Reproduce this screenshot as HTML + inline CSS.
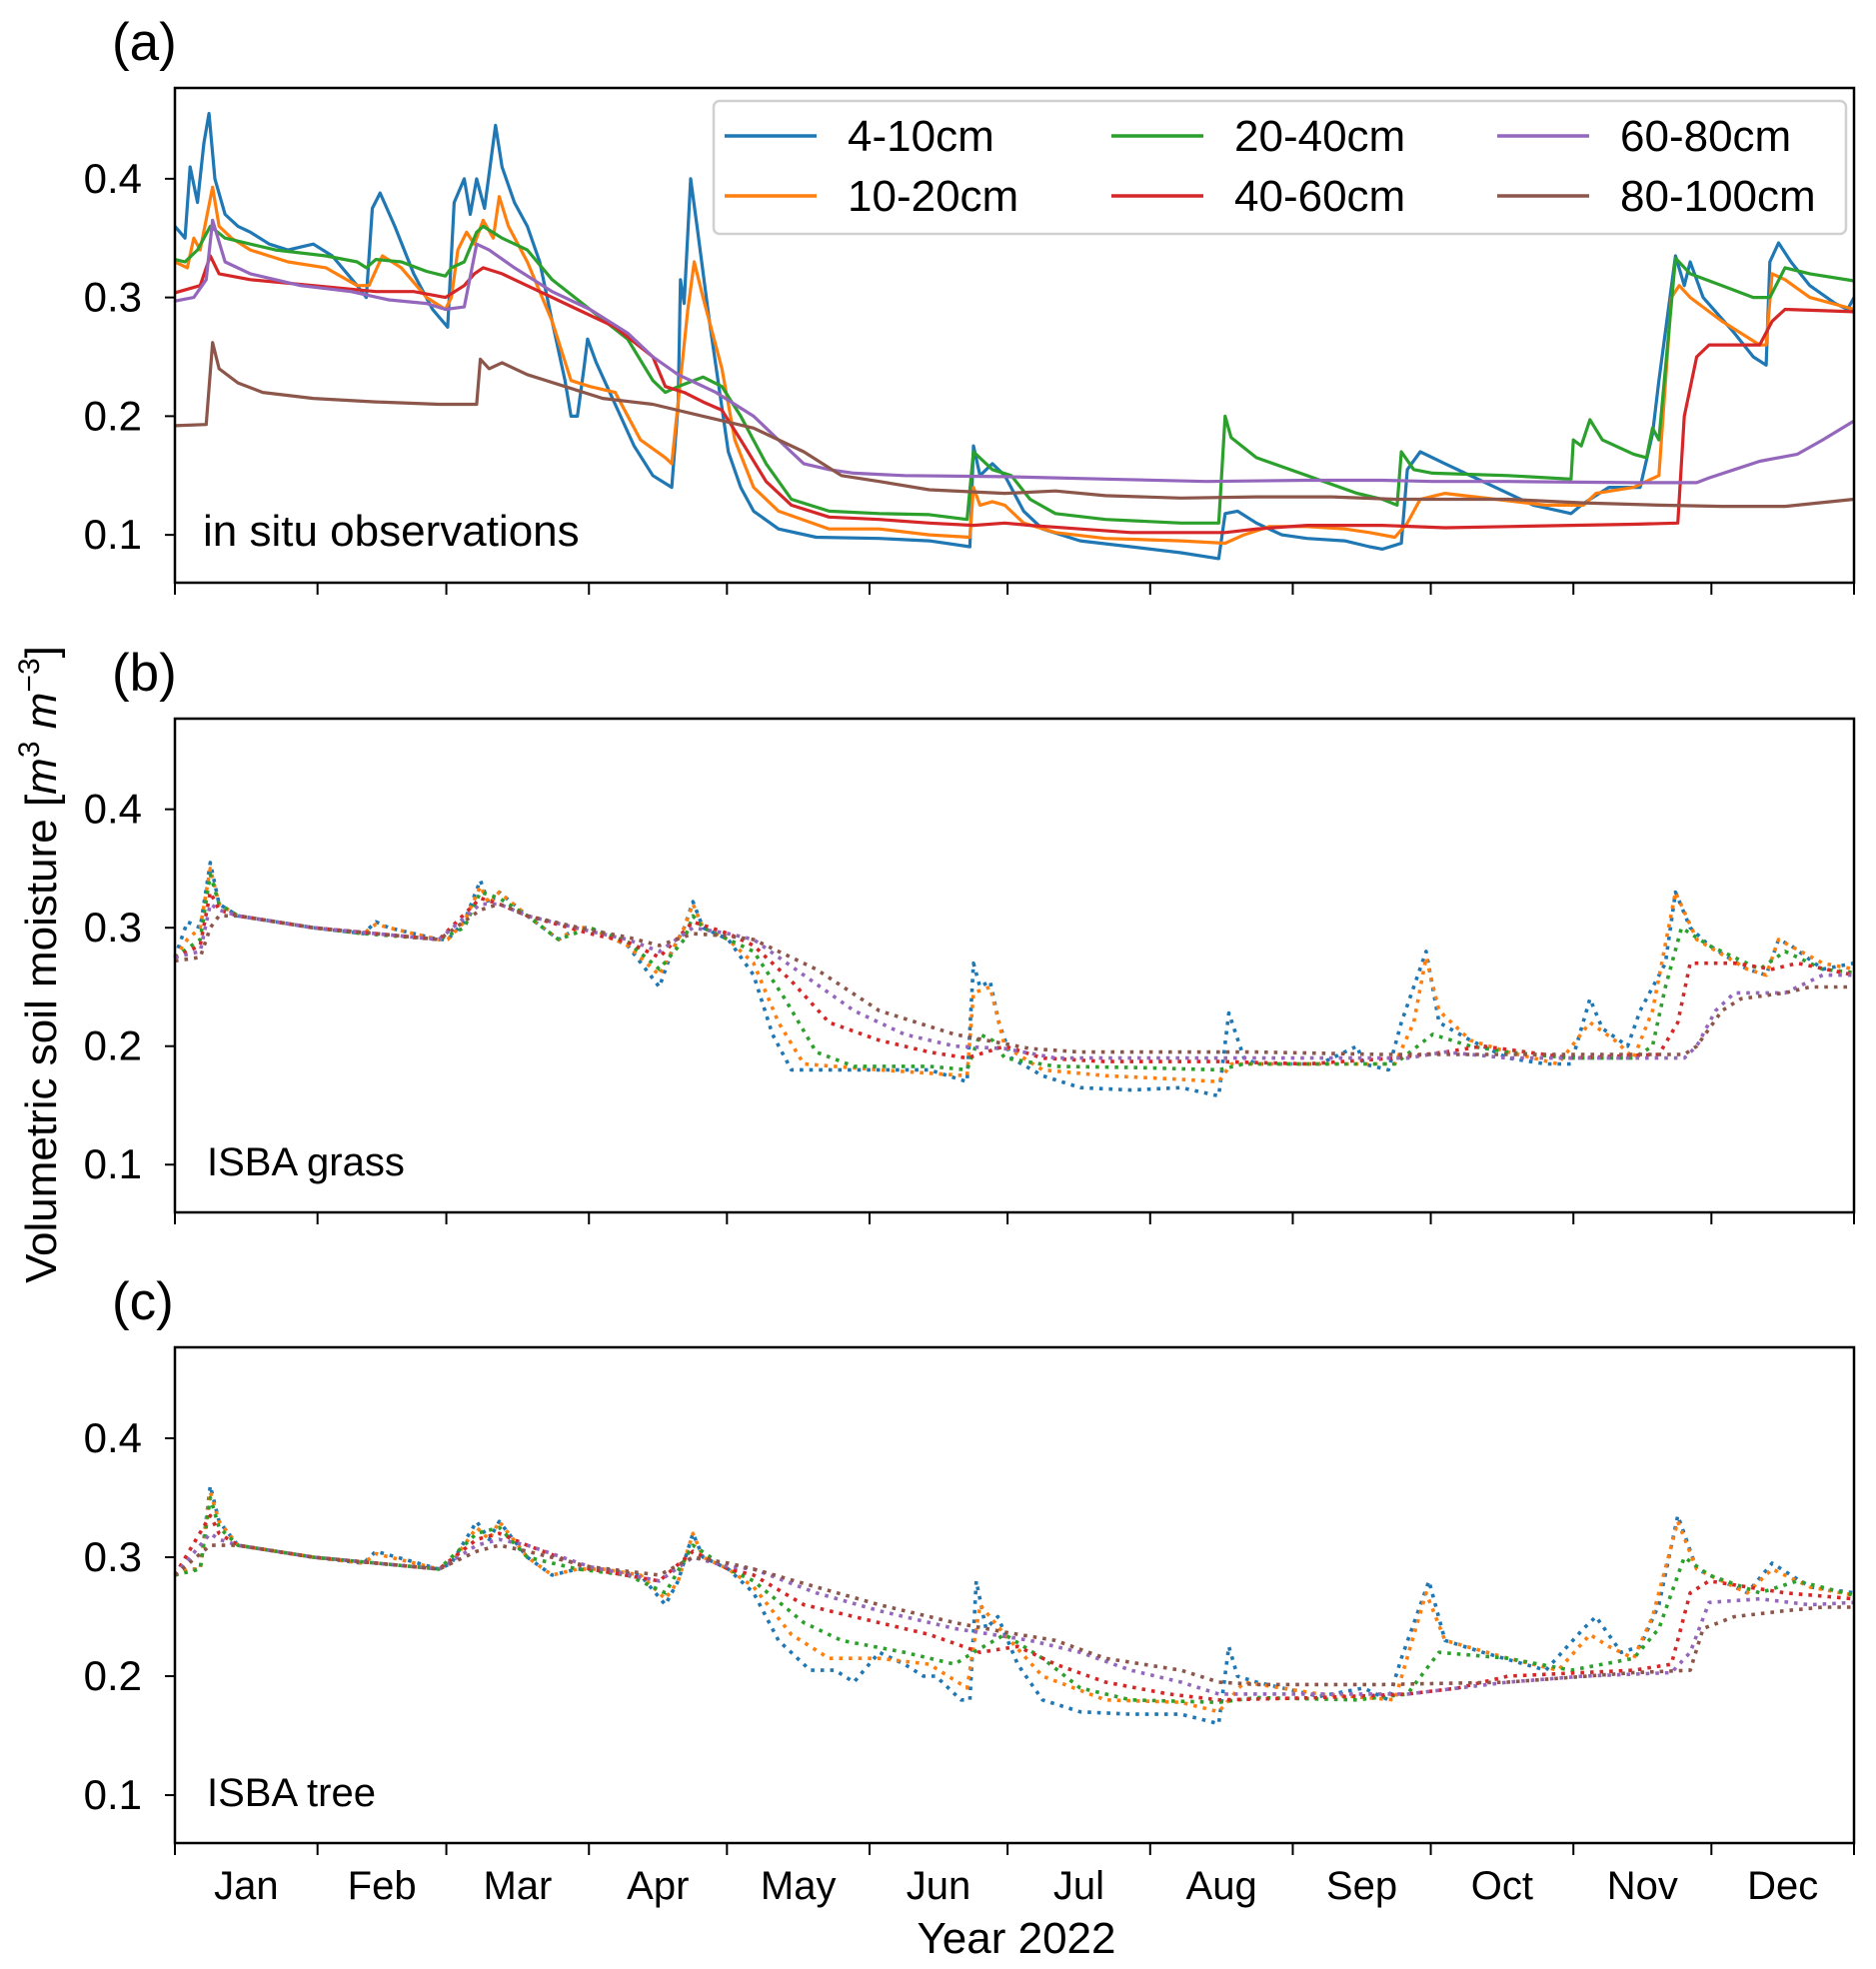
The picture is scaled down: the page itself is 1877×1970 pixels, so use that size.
<!DOCTYPE html>
<html><head><meta charset="utf-8"><style>
body{margin:0;background:#fff;}
svg{display:block;font-family:"Liberation Sans",sans-serif;}
</style></head><body>
<svg id="chart" width="1877" height="1970" viewBox="0 0 1877 1970" xmlns="http://www.w3.org/2000/svg"></svg>
<script>
const monthLabels=["Jan","Feb","Mar","Apr","May","Jun","Jul","Aug","Sep","Oct","Nov","Dec"];
const monthStarts=[0,31,59,90,120,151,181,212,243,273,304,334,365];
const yTicks=[0.1,0.2,0.3,0.4];
const seriesNames=["4-10cm","10-20cm","20-40cm","40-60cm","60-80cm","80-100cm"];
const colors=["#1f77b4","#ff7f0e","#2ca02c","#d62728","#9467bd","#8c564b"];

// Panel (a) in situ observations
const aBlueDays=[0,2.2,3.3,4.9,6.3,7.4,8.7,10.9,13.7,16.4,20.5,24.6,30.1,34.2,39.6,41.6,42.9,44.6,47.8,51.9,56,59.3,60.7,62.9,64.2,65.6,67.3,69.7,71.1,73.8,76.6,79.3,82,84.8,86.1,87.5,88.9,89.7,91.6,95.7,99.8,103.9,108,109.4,109.9,110.7,112.1,113.5,116.2,120.3,123,125.8,131.2,139.4,153.1,164,172.8,173.6,175,177.7,180.4,184.5,188.6,196.8,207.8,218.7,226.9,228.3,231,235.1,240.6,246.1,254.3,259.7,262.5,266.6,267.9,270.7,276.1,284.3,295.3,303.5,305.7,307.6,311.7,315.8,318.5,321.2,322.6,326.2,328.1,329.4,332.2,339,343.1,345.9,346.7,348.6,351.3,355.4,360.9,363.6,365];
const aBlueVals=[0.36,0.35,0.41,0.38,0.43,0.455,0.40,0.37,0.36,0.355,0.345,0.34,0.345,0.335,0.31,0.30,0.375,0.388,0.36,0.32,0.29,0.275,0.38,0.40,0.37,0.40,0.375,0.445,0.41,0.38,0.36,0.33,0.28,0.23,0.20,0.20,0.24,0.265,0.245,0.21,0.175,0.15,0.14,0.21,0.315,0.295,0.40,0.36,0.28,0.17,0.14,0.12,0.105,0.098,0.097,0.095,0.09,0.175,0.15,0.16,0.15,0.12,0.105,0.095,0.09,0.085,0.08,0.118,0.12,0.11,0.10,0.097,0.095,0.09,0.088,0.093,0.155,0.17,0.16,0.145,0.125,0.118,0.125,0.13,0.14,0.14,0.14,0.185,0.23,0.335,0.31,0.33,0.30,0.27,0.25,0.243,0.33,0.346,0.33,0.31,0.295,0.29,0.30];
const aOrangeDays=[0,2.7,4.1,5.5,8.2,9.6,12.3,16.4,24.6,32.8,39.6,42.2,45.1,49.2,54.7,58.8,60.1,61.5,63.4,65.1,67,69.2,70.5,72.5,76.6,82,86.1,90.2,95.7,101.2,106.6,108,111.5,112.9,114.8,118.9,121.7,125.8,131.2,142.2,153.1,164,172.8,173.6,175,177.7,180.4,184.5,191.4,202.3,218.7,228.3,232.4,237.9,246.1,254.3,259.7,265.2,267.9,270.7,276.1,287.1,298,306.2,308.9,317.1,322.6,325.3,327,329.4,336.3,344.5,345.9,347.2,350,355.4,365];
const aOrangeVals=[0.33,0.325,0.35,0.34,0.393,0.36,0.35,0.34,0.33,0.325,0.31,0.31,0.335,0.325,0.30,0.29,0.30,0.34,0.355,0.345,0.365,0.35,0.385,0.36,0.33,0.28,0.23,0.225,0.22,0.18,0.165,0.16,0.29,0.33,0.30,0.24,0.18,0.14,0.12,0.105,0.105,0.10,0.098,0.14,0.125,0.128,0.125,0.11,0.102,0.097,0.095,0.093,0.10,0.107,0.107,0.105,0.102,0.098,0.11,0.13,0.135,0.13,0.125,0.125,0.135,0.14,0.15,0.30,0.31,0.30,0.28,0.26,0.26,0.32,0.315,0.30,0.29];
const aGreenDays=[0,2.2,4.9,7.7,10.9,21.9,32.8,39.6,41.6,43.7,49.2,54.7,58.8,60.1,62.9,65.6,67,71.1,76.6,82,90.2,98.4,103.9,106.6,109.4,114.8,118.9,123,128.5,134,142.2,153.1,164,172.2,173.6,177.7,181.8,185.9,191.4,202.3,218.7,226.9,228.3,229.6,235.1,246.1,257,262.5,265.7,266.6,269.3,273.4,289.8,303.5,304,305.7,307.6,310.3,317.1,319.9,321.2,322.6,326.2,329.4,336.3,343.1,346.7,350,355.4,365];
const aGreenVals=[0.332,0.33,0.34,0.36,0.35,0.34,0.335,0.33,0.325,0.332,0.33,0.322,0.318,0.325,0.33,0.355,0.36,0.35,0.34,0.315,0.29,0.265,0.23,0.22,0.225,0.233,0.225,0.20,0.16,0.13,0.12,0.118,0.117,0.113,0.17,0.155,0.15,0.13,0.118,0.113,0.11,0.11,0.20,0.182,0.165,0.15,0.135,0.13,0.125,0.17,0.155,0.152,0.15,0.147,0.18,0.175,0.197,0.18,0.168,0.165,0.19,0.18,0.333,0.32,0.31,0.30,0.30,0.325,0.32,0.314];
const aRedDays=[0,5.5,7.7,9.6,16.4,30.1,43.7,51.9,58.8,62.9,65.1,67,71.1,79.3,87.5,95.7,103.9,106.6,110.7,114.8,118.9,123,128.5,134,142.2,153.1,164,173.6,180.4,185.9,196.8,207.8,228.3,235.1,246.1,262.5,276.1,289.8,303.5,317.1,326.7,328.1,330.8,333.5,344.5,347.2,350,365];
const aRedVals=[0.304,0.31,0.335,0.32,0.315,0.31,0.305,0.305,0.30,0.31,0.32,0.325,0.32,0.305,0.29,0.275,0.25,0.225,0.22,0.212,0.205,0.18,0.145,0.125,0.115,0.113,0.11,0.108,0.11,0.108,0.105,0.102,0.102,0.105,0.108,0.108,0.106,0.107,0.108,0.109,0.11,0.20,0.25,0.26,0.26,0.28,0.29,0.288];
const aPurpleDays=[0,4.1,6.8,8.2,10.9,16.4,27.3,38.3,46.5,54.7,58.8,62.9,65.6,68.3,73.8,82,90.2,98.4,103.9,109.4,117.6,125.8,131.2,136.7,142.2,147.6,158.6,180.4,202.3,224.2,246.1,262.5,273.4,289.8,317.1,330.8,333.5,339,344.5,352.7,358.2,365];
const aPurpleVals=[0.297,0.30,0.315,0.365,0.33,0.32,0.31,0.305,0.298,0.295,0.29,0.292,0.345,0.34,0.325,0.305,0.29,0.27,0.25,0.235,0.22,0.20,0.18,0.16,0.155,0.152,0.15,0.149,0.147,0.145,0.146,0.146,0.145,0.145,0.144,0.144,0.148,0.155,0.162,0.168,0.18,0.196];
const aBrownDays=[0,6.8,8.2,9.6,13.7,19.1,30.1,43.7,57.4,65.6,66.4,68.3,71.1,76.6,84.8,93,103.9,114.8,125.8,136.7,144.9,153.1,164,180.4,191.4,202.3,218.7,235.1,251.5,265.2,276.1,289.8,306.2,322.6,336.3,350,365];
const aBrownVals=[0.192,0.193,0.262,0.24,0.228,0.22,0.215,0.212,0.21,0.21,0.248,0.24,0.245,0.235,0.225,0.215,0.21,0.20,0.19,0.17,0.15,0.145,0.138,0.135,0.137,0.133,0.131,0.132,0.132,0.13,0.13,0.13,0.127,0.125,0.124,0.124,0.13];

// Panel (b) ISBA grass
const bBlueDays=[0,2.7,5.5,7.7,9.6,13.7,30.1,41,43.7,46.5,57.4,59.3,62.9,66.4,68.3,70.5,76.6,83.4,87.5,90.2,98.4,105.3,108,110.7,112.6,114.8,120.3,125.8,129.9,134,139.4,147.6,155.8,164,172.2,173.6,175,177.2,179.1,181.8,188.6,196.8,207.8,218.7,226.9,229.1,232.4,235.1,248.8,257,258.4,263.8,266.6,272,274.8,281.6,289.8,298,303.5,307.6,310.3,315.8,318.5,324,326.2,329.4,333.5,341.8,345.9,348.6,351.3,358.2,365];
const bBlueVals=[0.275,0.305,0.30,0.355,0.32,0.31,0.30,0.295,0.305,0.30,0.29,0.29,0.305,0.34,0.32,0.33,0.31,0.29,0.30,0.30,0.285,0.25,0.28,0.30,0.322,0.30,0.29,0.26,0.21,0.18,0.18,0.18,0.18,0.18,0.17,0.27,0.25,0.255,0.22,0.19,0.175,0.165,0.163,0.165,0.158,0.228,0.19,0.185,0.185,0.20,0.185,0.18,0.22,0.28,0.22,0.205,0.19,0.185,0.185,0.24,0.215,0.20,0.23,0.27,0.33,0.30,0.285,0.265,0.26,0.29,0.285,0.265,0.27];
const bOrangeDays=[0,2.7,5.5,7.7,9.6,13.7,30.1,41,43.7,46.5,57.4,59.3,62.9,66.4,68.3,70.5,76.6,83.4,87.5,90.2,98.4,105.3,108,110.7,112.6,114.8,120.3,125.8,131.2,136.7,153.1,172.2,173.6,177.2,180.4,188.6,202.3,218.7,226.9,229.6,248.8,265.2,269.3,272,274.8,281.6,289.8,300.7,307.6,313,317.1,321.2,326.2,330.8,341.8,345.9,348.6,358.2,365];
const bOrangeVals=[0.275,0.29,0.30,0.35,0.32,0.31,0.30,0.295,0.303,0.30,0.29,0.29,0.305,0.335,0.32,0.33,0.31,0.29,0.30,0.30,0.285,0.26,0.28,0.30,0.32,0.30,0.29,0.27,0.22,0.185,0.18,0.175,0.245,0.25,0.20,0.18,0.175,0.172,0.17,0.185,0.185,0.185,0.22,0.275,0.23,0.205,0.195,0.185,0.22,0.205,0.19,0.23,0.33,0.29,0.265,0.26,0.29,0.27,0.265];
const bGreenDays=[0,5.5,7.7,9.6,13.7,30.1,41,57.4,62.9,66.4,70.5,76.6,83.4,90.2,98.4,105.3,110.7,112.6,114.8,120.3,125.8,132.6,139.4,147.6,164,172.2,175,177.7,180.4,191.4,207.8,226.9,232.4,248.8,265.2,273.4,281.6,289.8,303.5,317.1,321.2,324,327.5,333.5,344.5,350,358.2,365];
const bGreenVals=[0.275,0.29,0.345,0.32,0.31,0.30,0.295,0.29,0.30,0.33,0.325,0.31,0.29,0.30,0.288,0.265,0.29,0.31,0.30,0.29,0.28,0.24,0.195,0.183,0.183,0.18,0.21,0.205,0.19,0.183,0.182,0.18,0.185,0.185,0.185,0.21,0.20,0.195,0.19,0.19,0.20,0.25,0.30,0.285,0.265,0.28,0.265,0.262];
const bRedDays=[0,5.5,7.7,9.6,13.7,30.1,57.4,66.4,70.5,76.6,90.2,98.4,105.3,112.6,120.3,125.8,134,142.2,153.1,164,172.2,180.4,188.6,202.3,226.9,246.1,265.2,276.1,284.3,303.5,322.6,326.7,329.4,339,347.2,352.7,365];
const bRedVals=[0.275,0.285,0.33,0.315,0.31,0.30,0.29,0.325,0.32,0.31,0.295,0.288,0.275,0.305,0.295,0.285,0.255,0.22,0.205,0.195,0.19,0.20,0.19,0.187,0.187,0.185,0.19,0.195,0.20,0.19,0.193,0.22,0.27,0.27,0.265,0.27,0.26];
const bPurpleDays=[0,5.5,7.7,9.6,13.7,30.1,57.4,66.4,70.5,76.6,90.2,98.4,105.3,112.6,120.3,125.8,136.7,147.6,158.6,169.5,180.4,191.4,207.8,246.1,268,276.1,289.8,317.1,328.1,330.8,334.9,339,350,358.2,365];
const bPurpleVals=[0.275,0.28,0.32,0.315,0.31,0.30,0.29,0.32,0.32,0.31,0.297,0.29,0.28,0.30,0.295,0.29,0.26,0.23,0.21,0.20,0.198,0.19,0.19,0.19,0.19,0.195,0.19,0.19,0.19,0.20,0.23,0.245,0.245,0.26,0.26];
const bBrownDays=[0,5.5,7.7,9.6,13.7,30.1,57.4,66.4,70.5,76.6,90.2,98.4,105.3,112.6,120.3,125.8,139.4,153.1,169.5,185.9,196.8,235.1,262.5,289.8,328.1,330.8,336.3,340.4,350,355.4,365];
const bBrownVals=[0.272,0.275,0.30,0.31,0.31,0.30,0.29,0.315,0.32,0.31,0.298,0.292,0.285,0.295,0.293,0.29,0.265,0.23,0.21,0.198,0.195,0.195,0.193,0.193,0.193,0.20,0.23,0.24,0.245,0.25,0.25];

// Panel (c) ISBA tree
const cBlueDays=[0,2.7,5.5,7.7,9.6,13.7,30.1,41,43.7,57.4,60.1,65.6,68.3,70.5,76.6,82,87.5,93,101.2,106.6,109.4,112.6,114.8,120.3,125.8,131.2,138.1,143.5,147.6,153.1,158.6,162.7,165.4,170.9,172.8,174.2,176.3,178.9,183.2,188.6,196.8,207.8,218.7,226.9,229.1,231,235.1,248.8,258.4,263.8,266.6,272.6,276.1,284.3,298,306.2,308.9,314.4,318.5,322.6,326.7,330.8,341.8,347.2,355.4,365];
const cBlueVals=[0.285,0.29,0.29,0.36,0.33,0.31,0.30,0.295,0.305,0.29,0.295,0.33,0.315,0.33,0.30,0.285,0.29,0.29,0.285,0.26,0.28,0.32,0.30,0.29,0.27,0.23,0.205,0.205,0.195,0.22,0.21,0.20,0.20,0.18,0.18,0.28,0.24,0.25,0.21,0.18,0.17,0.168,0.168,0.16,0.225,0.20,0.195,0.183,0.19,0.18,0.215,0.28,0.23,0.22,0.205,0.24,0.25,0.22,0.225,0.26,0.335,0.29,0.27,0.295,0.275,0.27];
const cOrangeDays=[0,2.7,5.5,7.7,9.6,13.7,30.1,41,43.7,57.4,60.1,65.6,68.3,70.5,76.6,82,87.5,93,101.2,106.6,109.4,112.6,114.8,120.3,125.8,134,142.2,153.1,164,172.2,175,180.4,188.6,202.3,218.7,226.9,232.4,248.8,265.2,272,276.1,289.8,300.7,307.6,311.7,317.1,321.2,326.7,330.8,341.8,347.2,355.4,365];
const cOrangeVals=[0.285,0.29,0.29,0.355,0.33,0.31,0.30,0.295,0.303,0.29,0.295,0.325,0.315,0.33,0.30,0.285,0.29,0.29,0.285,0.265,0.28,0.32,0.30,0.29,0.275,0.235,0.215,0.215,0.21,0.19,0.26,0.235,0.20,0.18,0.178,0.17,0.195,0.185,0.18,0.27,0.23,0.215,0.205,0.235,0.225,0.215,0.25,0.33,0.29,0.27,0.29,0.275,0.268];
const cGreenDays=[0,5.5,7.7,9.6,13.7,30.1,57.4,65.6,70.5,76.6,87.5,98.4,106.6,112.6,120.3,125.8,136.7,144.9,158.6,169.5,173.6,180.4,188.6,196.8,207.8,226.9,235.1,257,267.9,274.8,289.8,303.5,317.1,322.6,328.1,333.5,344.5,352.7,365];
const cGreenVals=[0.285,0.29,0.35,0.325,0.31,0.30,0.29,0.32,0.325,0.30,0.29,0.285,0.27,0.31,0.29,0.28,0.245,0.23,0.22,0.21,0.22,0.235,0.215,0.19,0.18,0.178,0.182,0.18,0.185,0.22,0.215,0.205,0.215,0.24,0.30,0.285,0.27,0.28,0.268];
const cRedDays=[0,7.7,9.6,13.7,30.1,57.4,65.6,70.5,76.6,90.2,105.3,112.6,120.3,125.8,136.7,147.6,164,175,183.2,191.4,202.3,216,226.9,248.8,268,278.9,289.8,317.1,325.3,329.4,333.5,350,365];
const cRedVals=[0.285,0.335,0.32,0.31,0.30,0.29,0.315,0.32,0.31,0.29,0.28,0.305,0.29,0.285,0.26,0.25,0.235,0.22,0.225,0.21,0.195,0.185,0.18,0.182,0.185,0.19,0.20,0.205,0.21,0.27,0.28,0.27,0.265];
const cPurpleDays=[0,7.7,9.6,13.7,30.1,57.4,65.6,70.5,76.6,90.2,105.3,112.6,120.3,125.8,139.4,153.1,169.5,185.9,196.8,207.8,218.7,226.9,248.8,268,289.8,306.2,325.3,329.4,333.5,344.5,355.4,365];
const cPurpleVals=[0.285,0.32,0.315,0.31,0.30,0.29,0.31,0.315,0.31,0.292,0.28,0.30,0.292,0.29,0.27,0.255,0.24,0.23,0.22,0.205,0.195,0.185,0.185,0.185,0.195,0.20,0.203,0.22,0.262,0.265,0.26,0.262];
const cBrownDays=[0,7.7,9.6,13.7,30.1,57.4,65.6,70.5,76.6,90.2,105.3,112.6,120.3,125.8,139.4,153.1,169.5,180.4,191.4,202.3,218.7,226.9,235.1,262.5,289.8,317.1,329.4,332.2,339,350,358.2,365];
const cBrownVals=[0.285,0.31,0.31,0.31,0.30,0.29,0.305,0.31,0.305,0.292,0.285,0.30,0.295,0.29,0.275,0.26,0.245,0.237,0.23,0.215,0.205,0.195,0.193,0.193,0.195,0.203,0.205,0.24,0.25,0.255,0.258,0.258];

const panels=[
 {id:"a",label:"(a)",note:"in situ observations",top:88,bottom:583,dotted:false,
  days:[aBlueDays,aOrangeDays,aGreenDays,aRedDays,aPurpleDays,aBrownDays],vals:[aBlueVals,aOrangeVals,aGreenVals,aRedVals,aPurpleVals,aBrownVals]},
 {id:"b",label:"(b)",note:"ISBA grass",top:719,bottom:1213,dotted:true,
  days:[bBlueDays,bOrangeDays,bGreenDays,bRedDays,bPurpleDays,bBrownDays],vals:[bBlueVals,bOrangeVals,bGreenVals,bRedVals,bPurpleVals,bBrownVals]},
 {id:"c",label:"(c)",note:"ISBA tree",top:1348,bottom:1844,dotted:true,
  days:[cBlueDays,cOrangeDays,cGreenDays,cRedDays,cPurpleDays,cBrownDays],vals:[cBlueVals,cOrangeVals,cGreenVals,cRedVals,cPurpleVals,cBrownVals]}
];

const NS="http://www.w3.org/2000/svg";
const svg=document.getElementById("chart");
const L=175,R=1855,YMIN=0.0597,YMAX=0.4765;
function xScale(d){return L+(d/365)*(R-L);}
function mk(tag,attrs,parent){const e=document.createElementNS(NS,tag);for(const k in attrs)e.setAttribute(k,attrs[k]);(parent||svg).appendChild(e);return e;}

panels.forEach(p=>{
  const yScale=v=>p.bottom-(v-YMIN)/(YMAX-YMIN)*(p.bottom-p.top);
  const g=mk("g",{});
  
  
  const lab=mk("text",{x:112,y:p.top-28,"font-size":53,"text-anchor":"start"},g);
  lab.textContent=p.label;
  
  
  p.days.forEach((ds,i)=>{
    const pts=ds.map((d,k)=>xScale(d).toFixed(1)+","+yScale(p.vals[i][k]).toFixed(1)).join(" ");
    const pl=mk("polyline",{points:pts,fill:"none",stroke:colors[i],"stroke-width":p.dotted?3.6:3.2,"stroke-linejoin":"round"},g);
    if(p.dotted)pl.setAttribute("stroke-dasharray","3.6 6");
    
    
  });
  const fr=mk("rect",{x:L,y:p.top,width:R-L,height:p.bottom-p.top,fill:"none",stroke:"#000","stroke-width":2.5},g);
  
  
  yTicks.forEach(t=>{
    const y=yScale(t);
    const tk=mk("line",{x1:L-10,x2:L,y1:y,y2:y,stroke:"#000","stroke-width":2},g);
    
    
    const tx=mk("text",{x:L-33,y:y+14,"font-size":42,"text-anchor":"end"},g);
    tx.textContent=t.toFixed(1);
    
    
  });
  monthStarts.forEach(d=>{
    const x=xScale(d);
    const tk=mk("line",{x1:x,x2:x,y1:p.bottom,y2:p.bottom+12,stroke:"#000","stroke-width":2},g);
    
    
  });
  const nt=mk("text",{x:p.id==="a"?203:207,y:p.bottom-37,"font-size":p.id==="a"?44:40},g);
  nt.textContent=p.note;
  
  
});

monthLabels.forEach((m,i)=>{
  const t=mk("text",{x:xScale((monthStarts[i]+monthStarts[i+1])/2),y:1900,"font-size":40,"text-anchor":"middle"});
  t.textContent=m;
  
  
});
const xt=mk("text",{x:1017,y:1954,"font-size":44,"text-anchor":"middle"});
xt.textContent="Year 2022";


const yt=mk("text",{x:0,y:0,"font-size":44,"text-anchor":"middle",transform:"translate(56,965) rotate(-90)"});
yt.innerHTML='Volumetric soil moisture [<tspan font-style="italic">m</tspan><tspan dy="-17" font-size="30">3</tspan><tspan dy="17" font-style="italic"> m</tspan><tspan dy="-17" font-size="30">−3</tspan><tspan dy="17">]</tspan>';



const lg=mk("g",{});


mk("rect",{x:714,y:101,width:1133,height:133,rx:6,fill:"#fff","fill-opacity":0.85,stroke:"#d0d0d0","stroke-width":2.5},lg);
const colX=[725,1112,1498],rowY=[136,196];
seriesNames.forEach((n,i)=>{
  const c=Math.floor(i/2),r=i%2;
  const ln=mk("line",{x1:colX[c],x2:colX[c]+92,y1:rowY[r],y2:rowY[r],stroke:colors[i],"stroke-width":3.5},lg);
  
  
  const t=mk("text",{x:colX[c]+123,y:rowY[r]+15,"font-size":44},lg);
  t.textContent=n;
  
  
});
</script>
</body></html>
